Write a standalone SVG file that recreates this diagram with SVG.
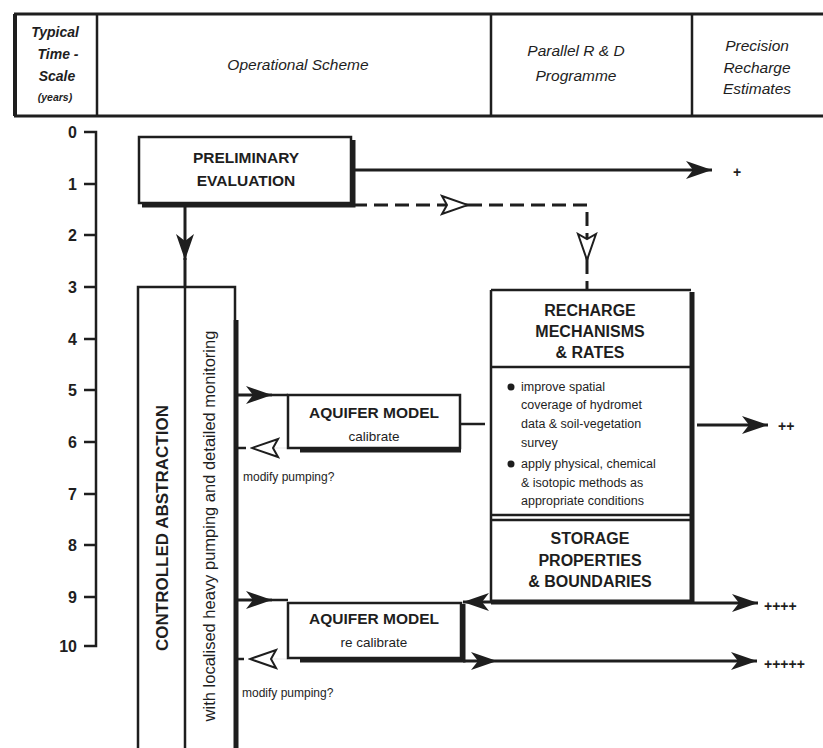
<svg xmlns="http://www.w3.org/2000/svg" width="823" height="748" viewBox="0 0 823 748">
<defs>
<style>
text{font-family:"Liberation Sans",Arial,sans-serif;fill:#1e1e1e}
.hd{font-style:italic;font-size:15.5px}
.hdb{font-style:italic;font-weight:bold;font-size:14px}
.ax{font-weight:bold;font-size:16px}
.bt{font-weight:bold;font-size:15.5px}
.sm{font-size:12.5px}
.pl{font-size:14px;font-weight:bold}
.ln{fill:none;stroke:#1e1e1e;stroke-width:2.5}
.th{fill:none;stroke:#1e1e1e;stroke-width:5}
.dash{fill:none;stroke:#1e1e1e;stroke-width:3;stroke-dasharray:14 7}
</style>
<marker id="fa" markerUnits="userSpaceOnUse" viewBox="0 0 26 18" markerWidth="26" markerHeight="18" refX="26" refY="9" orient="auto">
<path d="M0,0 L26,9 L0,18 L7,9 z" fill="#1e1e1e"/>
</marker>
<marker id="oa" markerUnits="userSpaceOnUse" viewBox="-2 -2 30 22" markerWidth="30" markerHeight="22" refX="26" refY="9" orient="auto">
<path d="M0,0 L26,9 L0,18 L5,9 z" fill="#fff" stroke="#1e1e1e" stroke-width="2"/>
</marker>
</defs>
<rect width="823" height="748" fill="#fff"/>

<g id="header">
<path class="ln" d="M14,14 H823 M14,116 H823" style="stroke-width:3"/>
<path class="ln" d="M15,14 V116" style="stroke-width:4"/>
<path class="ln" d="M97,14 V116 M491,14 V116 M692,14 V116"/>
<text class="hdb" x="55" y="37" text-anchor="middle">Typical</text>
<text class="hdb" x="58" y="59" text-anchor="middle">Time -</text>
<text class="hdb" x="57" y="81" text-anchor="middle">Scale</text>
<text class="hdb" x="55" y="101" text-anchor="middle" style="font-size:10.5px">(years)</text>
<text class="hd" x="298" y="70" text-anchor="middle">Operational Scheme</text>
<text class="hd" x="576" y="56" text-anchor="middle">Parallel R &amp; D</text>
<text class="hd" x="576" y="81" text-anchor="middle">Programme</text>
<text class="hd" x="757" y="51" text-anchor="middle">Precision</text>
<text class="hd" x="757" y="73" text-anchor="middle">Recharge</text>
<text class="hd" x="757" y="94" text-anchor="middle">Estimates</text>
</g>

<g id="axis">
<path class="ln" d="M84,132 H96 V646 H84 M84,184 H96 M84,235 H96 M84,287 H96 M84,339 H96 M84,390 H96 M84,442 H96 M84,494 H96 M84,545 H96 M84,597 H96"/>
<text class="ax" x="77" y="138" text-anchor="end">0</text>
<text class="ax" x="77" y="190" text-anchor="end">1</text>
<text class="ax" x="77" y="241" text-anchor="end">2</text>
<text class="ax" x="77" y="293" text-anchor="end">3</text>
<text class="ax" x="77" y="345" text-anchor="end">4</text>
<text class="ax" x="77" y="396" text-anchor="end">5</text>
<text class="ax" x="77" y="448" text-anchor="end">6</text>
<text class="ax" x="77" y="500" text-anchor="end">7</text>
<text class="ax" x="77" y="551" text-anchor="end">8</text>
<text class="ax" x="77" y="603" text-anchor="end">9</text>
<text class="ax" x="77" y="652" text-anchor="end">10</text>
</g>

<g id="preliminary">
<rect class="ln" x="139" y="137" width="212" height="66"/>
<path class="th" d="M142,205 H353 V140"/>
<text class="bt" x="246" y="163" text-anchor="middle">PRELIMINARY</text>
<text class="bt" x="246" y="186" text-anchor="middle">EVALUATION</text>
</g>

<g id="controlled">
<path class="ln" d="M138,748 V287 H235 V320"/>
<path class="th" d="M236,320 V748"/>
<path class="ln" d="M185,287 V748"/>
<text class="bt" transform="translate(168,528) rotate(-90)" text-anchor="middle" style="font-size:17px">CONTROLLED ABSTRACTION</text>
<text transform="translate(215,526) rotate(-90)" text-anchor="middle" style="font-size:16.5px">with localised heavy pumping and detailed monitoring</text>
</g>

<g id="aquifer1">
<rect class="ln" x="288" y="395" width="172" height="53"/>
<path class="th" d="M300,450 H461"/>
<text class="bt" x="374" y="418" text-anchor="middle">AQUIFER MODEL</text>
<text x="374" y="441" text-anchor="middle" style="font-size:13.5px">calibrate</text>
</g>

<g id="recharge">
<path class="ln" d="M491,290 H691 M491,290 V601 M491,367 H691 M491,515 H691 M491,520 H691"/>
<path class="th" d="M692,292 V603 M491,602 H694"/>
<text class="bt" x="590" y="316" text-anchor="middle" style="font-size:16px">RECHARGE</text>
<text class="bt" x="590" y="337" text-anchor="middle" style="font-size:16px">MECHANISMS</text>
<text class="bt" x="590" y="358" text-anchor="middle" style="font-size:16px">&amp; RATES</text>
<circle cx="511" cy="387" r="3.5" fill="#1e1e1e"/>
<circle cx="511" cy="464" r="3.5" fill="#1e1e1e"/>
<text class="sm" x="521" y="391">improve spatial</text>
<text class="sm" x="521" y="409">coverage of hydromet</text>
<text class="sm" x="521" y="428">data  &amp; soil-vegetation</text>
<text class="sm" x="521" y="447">survey</text>
<text class="sm" x="521" y="468">apply physical, chemical</text>
<text class="sm" x="521" y="487">&amp; isotopic methods as</text>
<text class="sm" x="521" y="505">appropriate conditions</text>
<text class="bt" x="590" y="544" text-anchor="middle" style="font-size:16px">STORAGE</text>
<text class="bt" x="590" y="566" text-anchor="middle" style="font-size:16px">PROPERTIES</text>
<text class="bt" x="590" y="587" text-anchor="middle" style="font-size:16px">&amp; BOUNDARIES</text>
</g>

<g id="aquifer2">
<rect class="ln" x="288" y="603" width="173" height="55"/>
<path class="th" d="M300,660 H463 V604"/>
<text class="bt" x="374" y="624" text-anchor="middle">AQUIFER MODEL</text>
<text x="374" y="647" text-anchor="middle" style="font-size:13.5px">re calibrate</text>
</g>

<g id="connectors">
<path class="ln" d="M353,170 H712" style="stroke-width:3" marker-end="url(#fa)"/>
<path class="ln" d="M185,205 V260" style="stroke-width:3" marker-end="url(#fa)"/>
<path class="ln" d="M185,258 V287" style="stroke-width:3"/>
<path class="dash" d="M353,205 H468" marker-end="url(#oa)"/>
<path class="dash" d="M468,205 H587 V260" marker-end="url(#oa)"/>
<path class="dash" d="M587,260 V290"/>
<path class="ln" d="M236,395 H272" style="stroke-width:3" marker-end="url(#fa)"/>
<path class="ln" d="M272,395 H288"/>
<path class="ln" d="M236,448 H246"/>
<path class="ln" d="M288,448 H252" style="stroke-width:0.1" marker-end="url(#oa)"/>
<text x="243" y="481" style="font-size:12px">modify pumping?</text>
<path class="ln" d="M461,424 H485"/>
<path class="ln" d="M697,425 H768" style="stroke-width:3" marker-end="url(#fa)"/>
<text class="pl" x="778" y="431">++</text>
<path class="ln" d="M236,600 H272" style="stroke-width:3" marker-end="url(#fa)"/>
<path class="ln" d="M272,600 H288"/>
<path class="ln" d="M491,602 H463" style="stroke-width:3" marker-end="url(#fa)"/>
<path class="ln" d="M694,603 H758" style="stroke-width:3" marker-end="url(#fa)"/>
<text class="pl" x="764" y="611">++++</text>
<path class="ln" d="M236,659 H244"/>
<path class="ln" d="M288,659 H250" style="stroke-width:0.1" marker-end="url(#oa)"/>
<text x="242" y="697" style="font-size:12px">modify pumping?</text>
<path class="ln" d="M463,661 H497" style="stroke-width:3" marker-end="url(#fa)"/>
<path class="ln" d="M497,661 H757" style="stroke-width:3" marker-end="url(#fa)"/>
<text class="pl" x="764" y="669">+++++</text>
<text class="pl" x="733" y="177">+</text>
</g>
</svg>
